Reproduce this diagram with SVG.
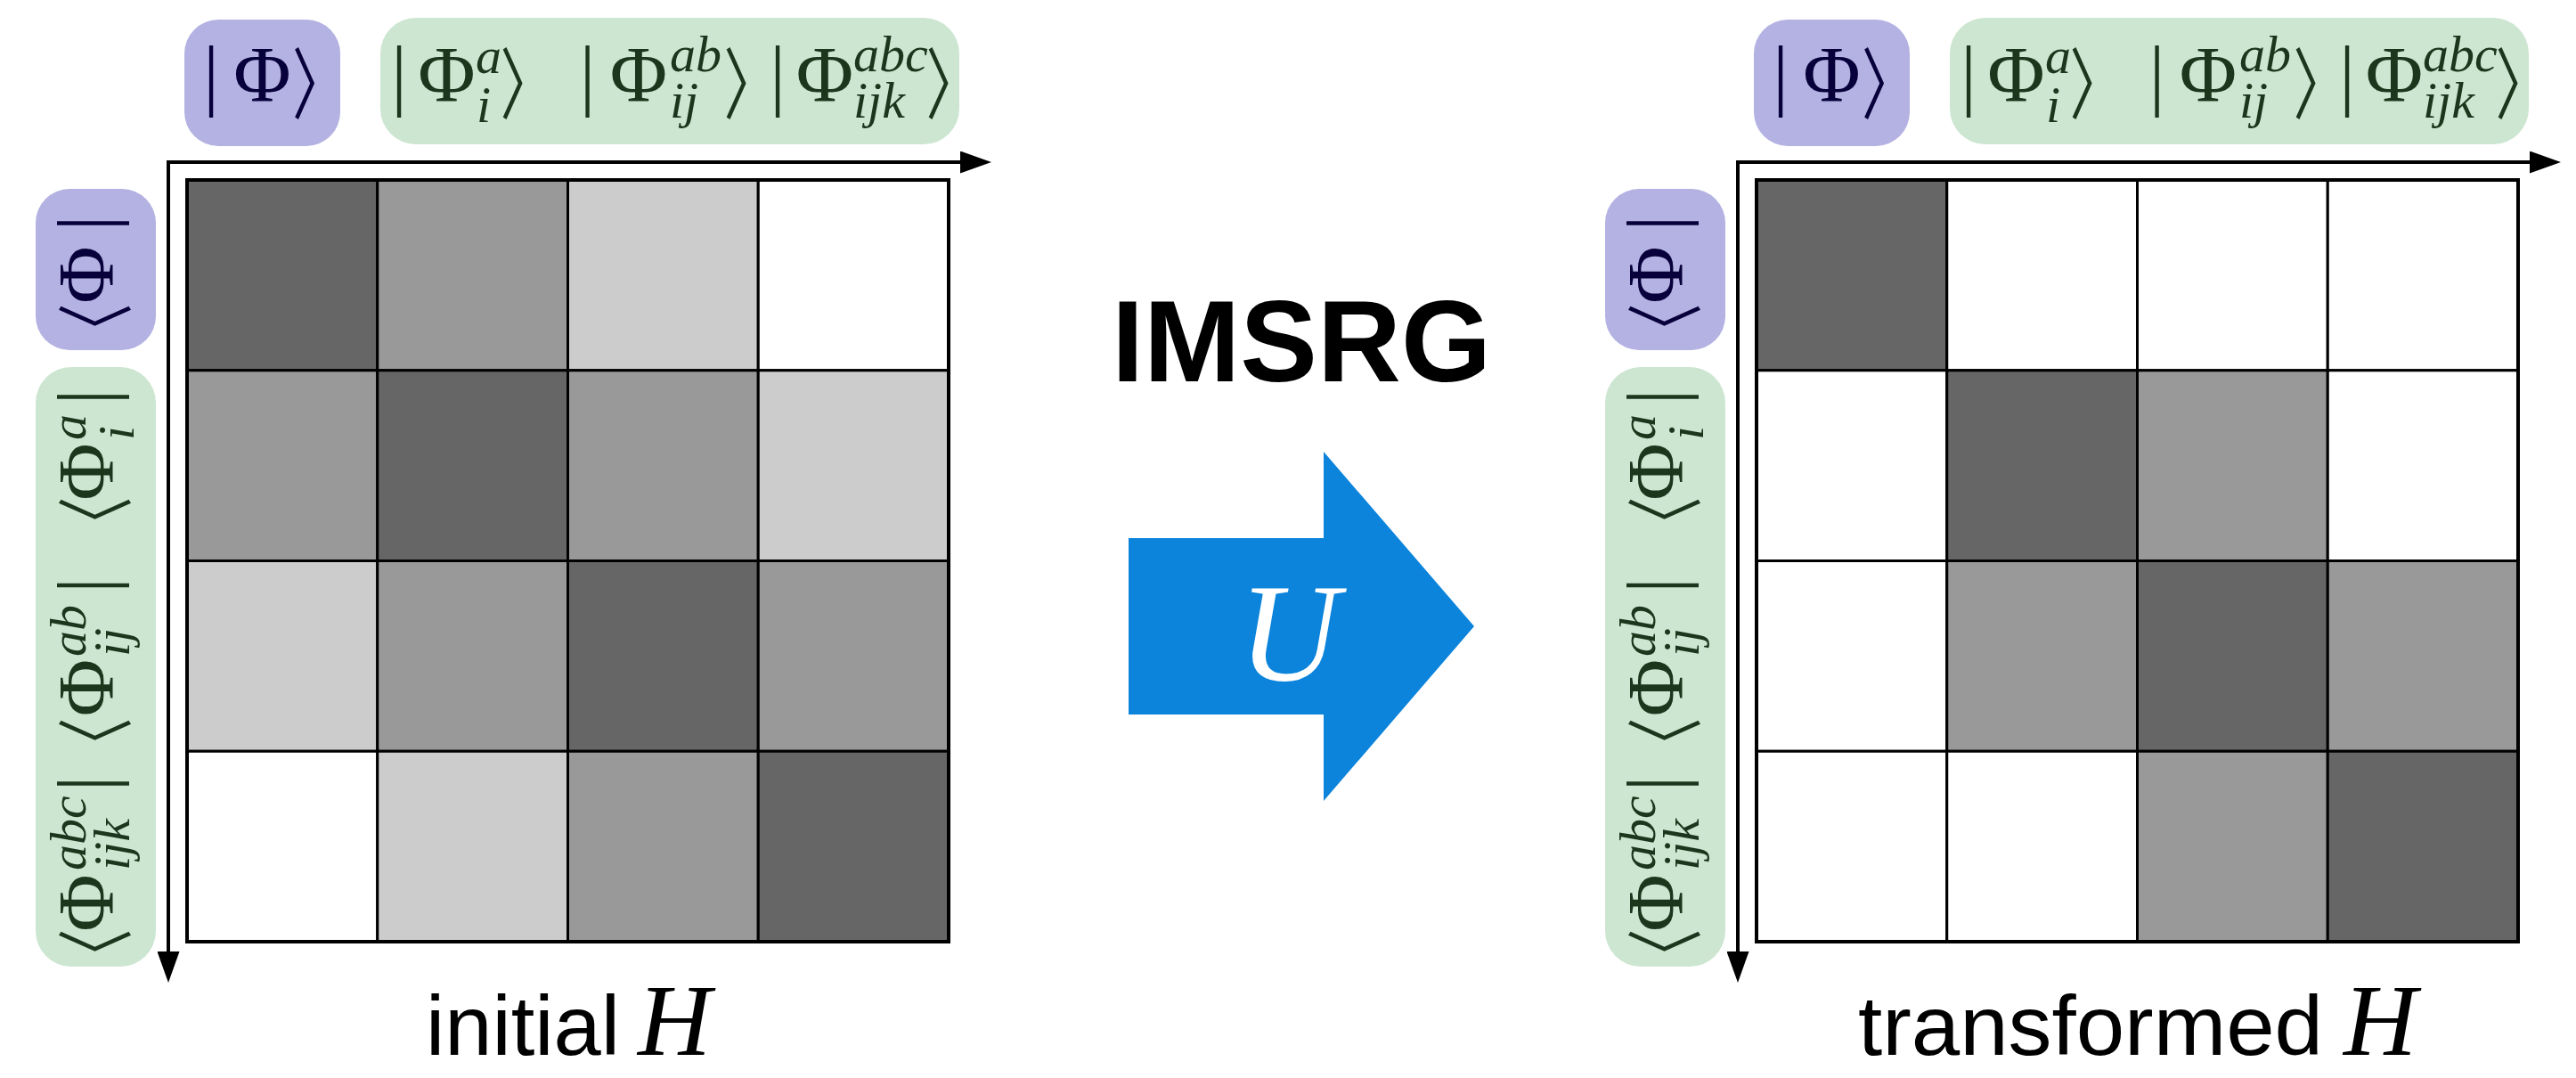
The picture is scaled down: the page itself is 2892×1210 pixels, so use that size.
<svg xmlns="http://www.w3.org/2000/svg" width="2892" height="1210" viewBox="0 0 2892 1210">
  <style>
    .bg { fill: #ffffff; }
    .ref { fill: #b4b2e2; }
    .exc { fill: #cde6d1; }
    .inkp { fill: #07003a; }
    .inkg { fill: #1b361c; }
    .phi { font-family: "Liberation Serif", "DejaVu Serif", serif; font-size: 88px; }
    .brk { font-family: "Noto Sans CJK JP", "DejaVu Serif", sans-serif; font-size: 87px; }
    .idx { font-family: "Liberation Serif", "DejaVu Serif", serif; font-style: italic; font-size: 58px; }
    .axis { stroke: #000; stroke-width: 4; fill: none; }
    .cell { stroke: #000; stroke-width: 3; }
    .frame { stroke: #000; stroke-width: 4; fill: none; }
    .d { fill: #666666; }
    .m { fill: #999999; }
    .l { fill: #cccccc; }
    .w { fill: #ffffff; }
    .cap { font-family: "Liberation Sans", Arial, sans-serif; font-size: 95px; fill: #000; }
    .hvar { font-family: "Liberation Serif", serif; font-style: italic; font-size: 114px; fill: #000; }
    .title { font-family: "Liberation Sans", Arial, sans-serif; font-weight: bold; font-size: 130px; fill: #000; }
    .uvar { font-family: "Liberation Serif", serif; font-style: italic; font-size: 156px; fill: #ffffff; }
  </style>
  <defs>
    <marker id="head" viewBox="0 0 35 25" refX="2" refY="12.5" markerWidth="35" markerHeight="25" markerUnits="userSpaceOnUse" orient="auto">
      <path d="M0,0 L35,12.5 L0,25 Z" fill="#000"/>
    </marker>
  </defs>

  <rect class="bg" x="0" y="0" width="2892" height="1210"/>

  <!-- left panel: Hamiltonian before the flow -->
  <g id="panel-initial">
    <g id="ket-ref">
      <rect class="ref" x="207" y="22" width="175" height="142" rx="38"/>
      <text class="inkp" y="113">
        <tspan class="phi" x="239" text-anchor="middle">|</tspan>
        <tspan class="phi" x="294.5" text-anchor="middle">Φ</tspan>
      </text>
      <text class="inkp brk" transform="translate(343.5 127) scale(0.7 1)" x="-22">〉</text>
    </g>
    <g id="ket-exc">
      <rect class="exc" x="427" y="20" width="650" height="142" rx="40"/>
      <text class="inkg" y="113">
        <tspan class="phi" x="450" text-anchor="middle">|</tspan>
        <tspan class="phi" x="503.5" text-anchor="middle">Φ</tspan>
        <tspan class="idx" x="534" y="82">a</tspan>
        <tspan class="idx" x="535" y="137">i</tspan>
        <tspan class="phi" x="661.5" y="113" text-anchor="middle">|</tspan>
        <tspan class="phi" x="719" text-anchor="middle">Φ</tspan>
        <tspan class="idx" x="752" y="80">ab</tspan>
        <tspan class="idx" x="752" y="132">ij</tspan>
        <tspan class="phi" x="875" y="113" text-anchor="middle">|</tspan>
        <tspan class="phi" x="928" text-anchor="middle">Φ</tspan>
        <tspan class="idx" x="958" y="80">abc</tspan>
        <tspan class="idx" x="958" y="132">ijk</tspan>
      </text>
      <text class="inkg brk" transform="translate(577 127) scale(0.7 1)" x="-22">〉</text>
      <text class="inkg brk" transform="translate(828 127) scale(0.7 1)" x="-22">〉</text>
      <text class="inkg brk" transform="translate(1055 127) scale(0.7 1)" x="-22">〉</text>
    </g>
    <g id="bra-ref">
      <rect class="ref" x="40" y="212" width="135" height="181" rx="38"/>
      <text class="inkp" transform="translate(126 0) rotate(-90)" y="0">
        <tspan class="phi" x="-306.5" text-anchor="middle">Φ</tspan>
        <tspan class="phi" x="-250.5" text-anchor="middle">|</tspan>
      </text>
      <text class="inkp brk" transform="translate(140 356) rotate(-90) scale(0.7 1)" x="-65">〈</text>
    </g>
    <g id="bra-exc">
      <rect class="exc" x="40" y="412" width="135" height="673" rx="40"/>
      <text class="inkg" transform="translate(126 0) rotate(-90)" y="0">
        <tspan class="phi" x="-1011.5" text-anchor="middle">Φ</tspan>
        <tspan class="idx" x="-977" y="-30">abc</tspan>
        <tspan class="idx" x="-977" y="19">ijk</tspan>
        <tspan class="phi" x="-877.5" y="0" text-anchor="middle">|</tspan>
        <tspan class="phi" x="-770" text-anchor="middle">Φ</tspan>
        <tspan class="idx" x="-737" y="-30">ab</tspan>
        <tspan class="idx" x="-737" y="19">ij</tspan>
        <tspan class="phi" x="-655" y="0" text-anchor="middle">|</tspan>
        <tspan class="phi" x="-527.5" text-anchor="middle">Φ</tspan>
        <tspan class="idx" x="-494" y="-30">a</tspan>
        <tspan class="idx" x="-494" y="24">i</tspan>
        <tspan class="phi" x="-445.5" y="0" text-anchor="middle">|</tspan>
      </text>
      <text class="inkg brk" transform="translate(140 1058) rotate(-90) scale(0.7 1)" x="-65">〈</text>
      <text class="inkg brk" transform="translate(140 821) rotate(-90) scale(0.7 1)" x="-65">〈</text>
      <text class="inkg brk" transform="translate(140 573) rotate(-90) scale(0.7 1)" x="-65">〈</text>
    </g>
    <g id="matrix-initial">
      <rect class="cell d" x="210" y="202" width="213.75" height="213.75"/>
      <rect class="cell m" x="423.75" y="202" width="213.75" height="213.75"/>
      <rect class="cell l" x="637.5" y="202" width="213.75" height="213.75"/>
      <rect class="cell w" x="851.25" y="202" width="213.75" height="213.75"/>
      <rect class="cell m" x="210" y="415.75" width="213.75" height="213.75"/>
      <rect class="cell d" x="423.75" y="415.75" width="213.75" height="213.75"/>
      <rect class="cell m" x="637.5" y="415.75" width="213.75" height="213.75"/>
      <rect class="cell l" x="851.25" y="415.75" width="213.75" height="213.75"/>
      <rect class="cell l" x="210" y="629.5" width="213.75" height="213.75"/>
      <rect class="cell m" x="423.75" y="629.5" width="213.75" height="213.75"/>
      <rect class="cell d" x="637.5" y="629.5" width="213.75" height="213.75"/>
      <rect class="cell m" x="851.25" y="629.5" width="213.75" height="213.75"/>
      <rect class="cell w" x="210" y="843.25" width="213.75" height="213.75"/>
      <rect class="cell l" x="423.75" y="843.25" width="213.75" height="213.75"/>
      <rect class="cell m" x="637.5" y="843.25" width="213.75" height="213.75"/>
      <rect class="cell d" x="851.25" y="843.25" width="213.75" height="213.75"/>
      <rect class="frame" x="210" y="202" width="855" height="855"/>
    </g>
    <g id="label-initial">
      <text class="cap" x="478" y="1184" textLength="218" lengthAdjust="spacingAndGlyphs">initial</text>
      <text class="hvar" x="716" y="1184">H</text>
    </g>
  </g>

  <!-- right panel: Hamiltonian after the flow -->
  <g id="panel-transformed" transform="translate(1762 0)">
    <g id="ket-ref-t">
      <rect class="ref" x="207" y="22" width="175" height="142" rx="38"/>
      <text class="inkp" y="113">
        <tspan class="phi" x="239" text-anchor="middle">|</tspan>
        <tspan class="phi" x="294.5" text-anchor="middle">Φ</tspan>
      </text>
      <text class="inkp brk" transform="translate(343.5 127) scale(0.7 1)" x="-22">〉</text>
    </g>
    <g id="ket-exc-t">
      <rect class="exc" x="427" y="20" width="650" height="142" rx="40"/>
      <text class="inkg" y="113">
        <tspan class="phi" x="450" text-anchor="middle">|</tspan>
        <tspan class="phi" x="503.5" text-anchor="middle">Φ</tspan>
        <tspan class="idx" x="534" y="82">a</tspan>
        <tspan class="idx" x="535" y="137">i</tspan>
        <tspan class="phi" x="661.5" y="113" text-anchor="middle">|</tspan>
        <tspan class="phi" x="719" text-anchor="middle">Φ</tspan>
        <tspan class="idx" x="752" y="80">ab</tspan>
        <tspan class="idx" x="752" y="132">ij</tspan>
        <tspan class="phi" x="875" y="113" text-anchor="middle">|</tspan>
        <tspan class="phi" x="928" text-anchor="middle">Φ</tspan>
        <tspan class="idx" x="958" y="80">abc</tspan>
        <tspan class="idx" x="958" y="132">ijk</tspan>
      </text>
      <text class="inkg brk" transform="translate(577 127) scale(0.7 1)" x="-22">〉</text>
      <text class="inkg brk" transform="translate(828 127) scale(0.7 1)" x="-22">〉</text>
      <text class="inkg brk" transform="translate(1055 127) scale(0.7 1)" x="-22">〉</text>
    </g>
    <g id="bra-ref-t">
      <rect class="ref" x="40" y="212" width="135" height="181" rx="38"/>
      <text class="inkp" transform="translate(126 0) rotate(-90)" y="0">
        <tspan class="phi" x="-306.5" text-anchor="middle">Φ</tspan>
        <tspan class="phi" x="-250.5" text-anchor="middle">|</tspan>
      </text>
      <text class="inkp brk" transform="translate(140 356) rotate(-90) scale(0.7 1)" x="-65">〈</text>
    </g>
    <g id="bra-exc-t">
      <rect class="exc" x="40" y="412" width="135" height="673" rx="40"/>
      <text class="inkg" transform="translate(126 0) rotate(-90)" y="0">
        <tspan class="phi" x="-1011.5" text-anchor="middle">Φ</tspan>
        <tspan class="idx" x="-977" y="-30">abc</tspan>
        <tspan class="idx" x="-977" y="19">ijk</tspan>
        <tspan class="phi" x="-877.5" y="0" text-anchor="middle">|</tspan>
        <tspan class="phi" x="-770" text-anchor="middle">Φ</tspan>
        <tspan class="idx" x="-737" y="-30">ab</tspan>
        <tspan class="idx" x="-737" y="19">ij</tspan>
        <tspan class="phi" x="-655" y="0" text-anchor="middle">|</tspan>
        <tspan class="phi" x="-527.5" text-anchor="middle">Φ</tspan>
        <tspan class="idx" x="-494" y="-30">a</tspan>
        <tspan class="idx" x="-494" y="24">i</tspan>
        <tspan class="phi" x="-445.5" y="0" text-anchor="middle">|</tspan>
      </text>
      <text class="inkg brk" transform="translate(140 1058) rotate(-90) scale(0.7 1)" x="-65">〈</text>
      <text class="inkg brk" transform="translate(140 821) rotate(-90) scale(0.7 1)" x="-65">〈</text>
      <text class="inkg brk" transform="translate(140 573) rotate(-90) scale(0.7 1)" x="-65">〈</text>
    </g>
    <g id="matrix-transformed">
      <rect class="cell d" x="210" y="202" width="213.75" height="213.75"/>
      <rect class="cell w" x="423.75" y="202" width="213.75" height="213.75"/>
      <rect class="cell w" x="637.5" y="202" width="213.75" height="213.75"/>
      <rect class="cell w" x="851.25" y="202" width="213.75" height="213.75"/>
      <rect class="cell w" x="210" y="415.75" width="213.75" height="213.75"/>
      <rect class="cell d" x="423.75" y="415.75" width="213.75" height="213.75"/>
      <rect class="cell m" x="637.5" y="415.75" width="213.75" height="213.75"/>
      <rect class="cell w" x="851.25" y="415.75" width="213.75" height="213.75"/>
      <rect class="cell w" x="210" y="629.5" width="213.75" height="213.75"/>
      <rect class="cell m" x="423.75" y="629.5" width="213.75" height="213.75"/>
      <rect class="cell d" x="637.5" y="629.5" width="213.75" height="213.75"/>
      <rect class="cell m" x="851.25" y="629.5" width="213.75" height="213.75"/>
      <rect class="cell w" x="210" y="843.25" width="213.75" height="213.75"/>
      <rect class="cell w" x="423.75" y="843.25" width="213.75" height="213.75"/>
      <rect class="cell m" x="637.5" y="843.25" width="213.75" height="213.75"/>
      <rect class="cell d" x="851.25" y="843.25" width="213.75" height="213.75"/>
      <rect class="frame" x="210" y="202" width="855" height="855"/>
    </g>
    <g id="label-transformed">
      <text class="cap" x="324" y="1184" textLength="522" lengthAdjust="spacingAndGlyphs">transformed</text>
      <text class="hvar" x="869" y="1184">H</text>
    </g>
  </g>

  <!-- axis arrows along the bra and ket directions -->
  <g id="connectors">
    <path class="axis" d="M189,182 H1080" marker-end="url(#head)"/>
    <path class="axis" d="M189,180 V1070" marker-end="url(#head)"/>
    <path class="axis" d="M1951,182 H2842" marker-end="url(#head)"/>
    <path class="axis" d="M1951,180 V1070" marker-end="url(#head)"/>
  </g>

  <!-- the flow: unitary U taking initial H to transformed H -->
  <g id="flow">
    <text class="title" x="1461" y="428" text-anchor="middle">IMSRG</text>
    <polygon points="1267,604 1486,604 1486,507 1655,703 1486,899 1486,802 1267,802" fill="#0c84db"/>
    <text class="uvar" x="1447" y="763" text-anchor="middle">U</text>
  </g>
</svg>
